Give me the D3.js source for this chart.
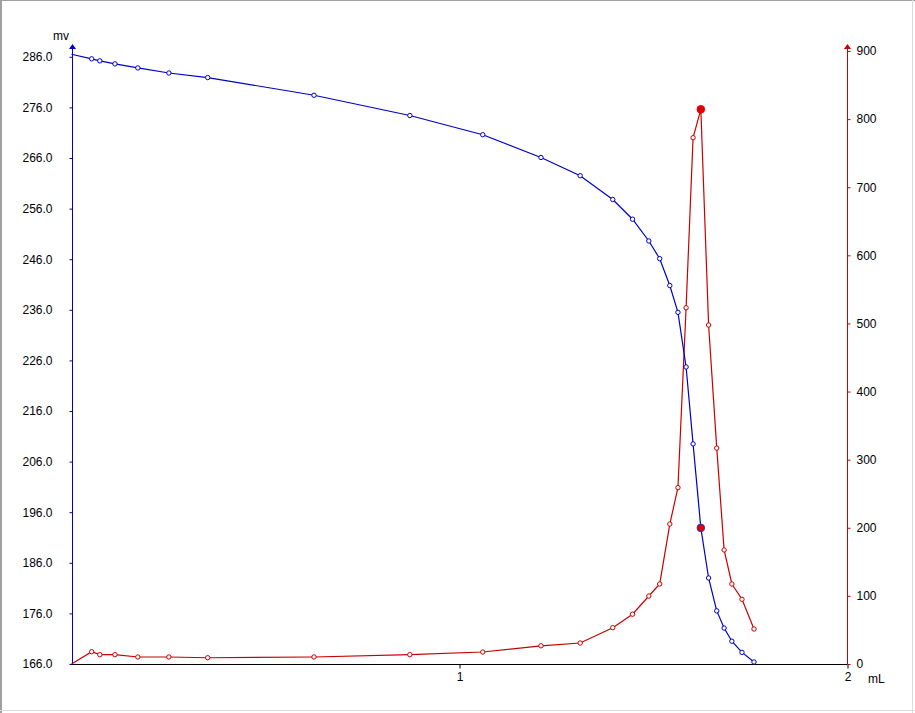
<!DOCTYPE html>
<html><head><meta charset="utf-8">
<script src="https://cdn.jsdelivr.net/npm/d3@7/dist/d3.min.js"></script>
<style>body{margin:0;background:#fff}svg{display:block}text{font-family:"Liberation Sans",Arial,sans-serif;font-size:12px;fill:#000}</style>
</head><body><svg id="c" width="915" height="713"></svg>
<script>
// Titrant volume (mL)
const volume = [0.000,0.052,0.073,0.112,0.171,0.251,0.351,0.625,0.872,1.060,1.210,1.311,1.395,1.446,1.488,1.516,1.542,1.563,1.584,1.602,1.622,1.642,1.663,1.682,1.702,1.728,1.759];
// Potential (mv) - left axis, blue
const potential = [286.5,285.6,285.2,284.6,283.8,282.8,281.9,278.4,274.4,270.6,266.1,262.5,257.8,253.9,249.6,246.1,240.8,235.5,224.7,209.5,192.9,183.0,176.5,173.1,170.5,168.3,166.4];
// First derivative - right axis, red
const derivative = [0,18,13.7,13.7,10.3,10.3,9.2,10.3,13.7,17.6,26.7,30.8,53.3,73.1,99.8,117.5,205.5,258.9,523,772.7,814.4,497.7,317,167.4,117.5,95,51.4];
const leftTicks = [166,176,186,196,206,216,226,236,246,256,266,276,286];
const rightTicks = [0,100,200,300,400,500,600,700,800,900];
const xTicks = [1,2];

const svg = d3.select("#c");
const x0 = 71.5, x1 = 847.5, yb = 664, yt = 51;
const x = d3.scaleLinear().domain([0,2]).range([x0,x1]);
const yL = d3.scaleLinear().domain([166,286]).range([yb,56.8]);
const yR = d3.scaleLinear().domain([0,900]).range([yb,yt]);
const blue = "#0000c8", red = "#c80000";

// frame
svg.append("line").attr("x1",0).attr("x2",915).attr("y1",0.5).attr("y2",0.5).attr("stroke","#a0a0a0");
svg.append("line").attr("x1",1).attr("x2",1).attr("y1",0).attr("y2",713).attr("stroke","#a0a0a0").attr("stroke-width",2);
svg.append("line").attr("x1",0).attr("x2",915).attr("y1",710.5).attr("y2",710.5).attr("stroke","#dcdcdc");
svg.append("line").attr("x1",912.5).attr("x2",912.5).attr("y1",0).attr("y2",713).attr("stroke","#dcdcdc");

// x axis
const gx = svg.append("g").attr("transform",`translate(0,${yb+0.5})`)
  .call(d3.axisBottom(x).tickValues(xTicks).tickFormat(d3.format("d")).tickSize(4).tickPadding(4));
gx.select(".domain").attr("d",`M${x0},0H${x1}`).attr("stroke","#000");
gx.selectAll("text").style("font-size","12px");
svg.append("text").attr("x",868).attr("y",yb+19).text("mL");

// left axis
const gl = svg.append("g").attr("transform",`translate(${Math.round(x0)+0.5},0)`)
  .call(d3.axisLeft(yL).tickValues(leftTicks).tickFormat(d3.format(".1f")).tickSize(3).tickPadding(17));
gl.select(".domain").attr("d",`M0,${yb}V47`).attr("stroke",blue);
gl.selectAll(".tick line").attr("stroke",blue);
svg.append("path").attr("d",`M${Math.round(x0)+0.5},44 l-3.5,5 h7 z`).attr("fill",blue);
svg.append("text").attr("x",53).attr("y",40).text("mv");

// right axis
const gr = svg.append("g").attr("transform",`translate(${x1},0)`)
  .call(d3.axisRight(yR).tickValues(rightTicks).tickSize(3).tickPadding(6));
gr.select(".domain").attr("d",`M0,${yb}V47`).attr("stroke",red);
gr.selectAll(".tick line").attr("stroke",red);
svg.append("path").attr("d",`M${x1},44 l-3.5,5 h7 z`).attr("fill",red);

svg.selectAll(".tick text").attr("fill","#000").style("font-family","Liberation Sans, Arial, sans-serif").style("font-size","12px");

// lines
const idx = d3.range(volume.length);
const lineL = d3.line().x(i=>x(volume[i])).y(i=>yL(potential[i]));
const lineR = d3.line().x(i=>x(volume[i])).y(i=>yR(derivative[i]));
svg.append("path").attr("d",lineR(idx)).attr("fill","none").attr("stroke",red).attr("stroke-width",1.2);
svg.append("path").attr("d",lineL(idx)).attr("fill","none").attr("stroke",blue).attr("stroke-width",1.2);

const pk = d3.maxIndex(derivative);
const mk = idx.slice(1).filter(i=>i!==pk);
svg.selectAll(".mr").data(mk).enter().append("circle")
  .attr("cx",i=>x(volume[i])).attr("cy",i=>yR(derivative[i])).attr("r",2.2)
  .attr("fill","#fff").attr("stroke",red).attr("stroke-width",1);
svg.selectAll(".mb").data(mk).enter().append("circle")
  .attr("cx",i=>x(volume[i])).attr("cy",i=>yL(potential[i])).attr("r",2.2)
  .attr("fill","#fff").attr("stroke",blue).attr("stroke-width",1);
// end point markers
svg.append("circle").attr("cx",x(volume[pk])).attr("cy",yR(derivative[pk])).attr("r",3.8).attr("fill","#e00000").attr("stroke","#e00000");
svg.append("circle").attr("cx",x(volume[pk])).attr("cy",yL(potential[pk])).attr("r",3.8).attr("fill","#e00000").attr("stroke","#3030c0").attr("stroke-width",1);
</script></body></html>
